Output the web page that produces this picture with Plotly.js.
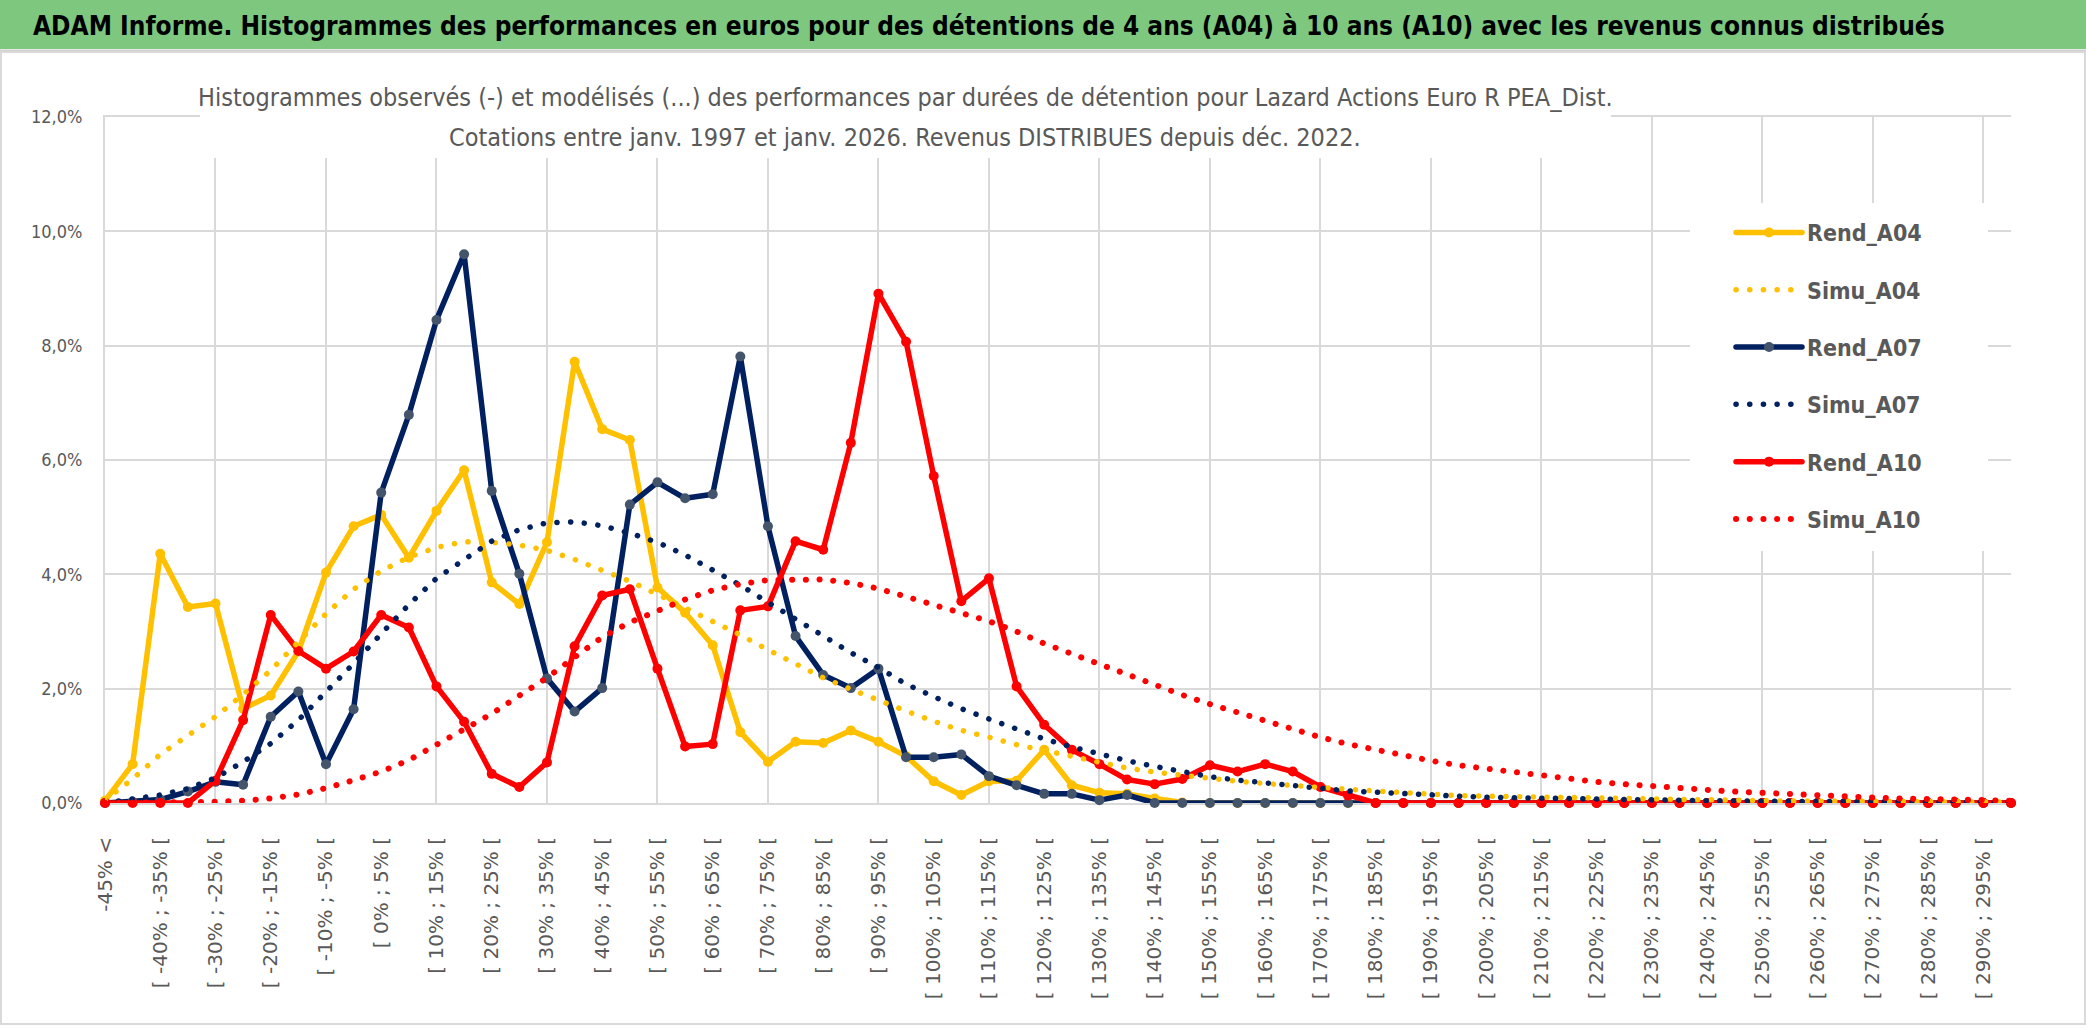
<!DOCTYPE html>
<html>
<head>
<meta charset="utf-8">
<script src="https://cdn.plot.ly/plotly-3.0.1.min.js"></script>
<style>
html,body{margin:0;padding:0;background:#fff;overflow:hidden;}
#chart{width:2086px;height:1031px;}
.js-line{stroke-linecap:round;stroke-linejoin:round;}
</style>
</head>
<body>
<div id="chart"></div>
<script>
const categories = [
"-45% <",
"[ -45% ; -40% [","[ -40% ; -35% [","[ -35% ; -30% [","[ -30% ; -25% [","[ -25% ; -20% [","[ -20% ; -15% [","[ -15% ; -10% [","[ -10% ; -5% [","[ -5% ; 0% [",
"[ 0% ; 5% [","[ 5% ; 10% [","[ 10% ; 15% [","[ 15% ; 20% [","[ 20% ; 25% [","[ 25% ; 30% [","[ 30% ; 35% [","[ 35% ; 40% [","[ 40% ; 45% [","[ 45% ; 50% [",
"[ 50% ; 55% [","[ 55% ; 60% [","[ 60% ; 65% [","[ 65% ; 70% [","[ 70% ; 75% [","[ 75% ; 80% [","[ 80% ; 85% [","[ 85% ; 90% [","[ 90% ; 95% [","[ 95% ; 100% [",
"[ 100% ; 105% [","[ 105% ; 110% [","[ 110% ; 115% [","[ 115% ; 120% [","[ 120% ; 125% [","[ 125% ; 130% [","[ 130% ; 135% [","[ 135% ; 140% [","[ 140% ; 145% [","[ 145% ; 150% [",
"[ 150% ; 155% [","[ 155% ; 160% [","[ 160% ; 165% [","[ 165% ; 170% [","[ 170% ; 175% [","[ 175% ; 180% [","[ 180% ; 185% [","[ 185% ; 190% [","[ 190% ; 195% [","[ 195% ; 200% [",
"[ 200% ; 205% [","[ 205% ; 210% [","[ 210% ; 215% [","[ 215% ; 220% [","[ 220% ; 225% [","[ 225% ; 230% [","[ 230% ; 235% [","[ 235% ; 240% [","[ 240% ; 245% [","[ 245% ; 250% [",
"[ 250% ; 255% [","[ 255% ; 260% [","[ 260% ; 265% [","[ 265% ; 270% [","[ 270% ; 275% [","[ 275% ; 280% [","[ 280% ; 285% [","[ 285% ; 290% [","[ 290% ; 295% [","[ 295% ; 300% ["
];

const rendA04 = [0.04,0.68,4.36,3.43,3.49,1.65,1.88,2.65,4.03,4.84, 5.04,4.29,5.11,5.82,3.86,3.48,4.56,7.72,6.54,6.35, 3.77,3.33,2.76,1.24,0.72,1.07,1.05,1.27,1.07,0.82, 0.38,0.14,0.38,0.39,0.93,0.31,0.18,0.16,0.08,0.01, 0,0,0,0,0,0,0,0,0,0, 0,0,0,0,0,0,0,0,0,0, 0,0,0,0,0,0,0,0,0,0];
const simuA04 = [0.05,0.42,0.85,1.18,1.51,1.90,2.32,2.82,3.31,3.74, 4.06,4.30,4.47,4.57,4.56,4.51,4.42,4.26,4.08,3.88, 3.65,3.42,3.18,2.94,2.68,2.43,2.19,1.99,1.79,1.61, 1.43,1.27,1.15,1.02,0.92,0.81,0.70,0.61,0.54,0.48, 0.43,0.38,0.34,0.30,0.26,0.24,0.21,0.18,0.15,0.13, 0.12,0.11,0.10,0.09,0.08,0.07,0.065,0.06,0.05,0.045, 0.04,0.035,0.03,0.03,0.025,0.02,0.02,0.02,0.015,0.015];
const rendA07 = [0,0.02,0.06,0.2,0.37,0.32,1.51,1.95,0.68,1.64, 5.43,6.79,8.45,9.60,5.46,4.01,2.18,1.60,2.01,5.22, 5.61,5.33,5.40,7.81,4.84,2.92,2.24,2.01,2.35,0.80, 0.80,0.85,0.47,0.31,0.16,0.16,0.05,0.14,0,0, 0,0,0,0,0,0,0,0,0,0, 0,0,0,0,0,0,0,0,0,0, 0,0,0,0,0,0,0,0,0,0];
const simuA07 = [0,0.07,0.14,0.25,0.44,0.72,1.04,1.45,1.93,2.44, 2.96,3.47,3.93,4.26,4.58,4.78,4.90,4.92,4.85,4.72, 4.56,4.34,4.08,3.81,3.51,3.21,2.93,2.63,2.37,2.08, 1.86,1.65,1.47,1.29,1.12,0.98,0.85,0.74,0.64,0.54, 0.46,0.40,0.35,0.29,0.25,0.21,0.19,0.16,0.14,0.12, 0.10,0.09,0.08,0.07,0.065,0.06,0.05,0.045,0.04,0.035, 0.03,0.028,0.025,0.02,0.02,0.015,0.015,0.01,0.01,0.01];
const rendA10 = [0,0,0,0,0.39,1.45,3.29,2.66,2.35,2.65, 3.29,3.07,2.04,1.42,0.51,0.28,0.71,2.74,3.63,3.74, 2.35,0.99,1.03,3.37,3.44,4.58,4.43,6.30,8.91,8.07, 5.72,3.53,3.93,2.04,1.37,0.93,0.68,0.41,0.33,0.42, 0.66,0.55,0.68,0.55,0.28,0.13,0,0,0,0, 0,0,0,0,0,0,0,0,0,0, 0,0,0,0,0,0,0,0,0,0];
const simuA10 = [0,0,0,0.01,0.02,0.04,0.08,0.15,0.26,0.40, 0.55,0.75,1.03,1.29,1.56,1.88,2.19,2.55,2.90,3.16, 3.36,3.56,3.72,3.83,3.90,3.91,3.91,3.85,3.75,3.61, 3.47,3.33,3.18,3.00,2.79,2.61,2.43,2.23,2.06,1.89, 1.73,1.58,1.43,1.29,1.15,1.03,0.93,0.83,0.74,0.66, 0.60,0.53,0.47,0.42,0.37,0.33,0.29,0.26,0.23,0.20, 0.175,0.15,0.13,0.11,0.095,0.08,0.07,0.06,0.05,0.04];

const seriesNames = ["Rend_A04","Simu_A04","Rend_A07","Simu_A07","Rend_A10","Simu_A10"];
const headerText = "ADAM Informe. Histogrammes des performances en euros pour des détentions de 4 ans (A04) à 10 ans (A10) avec les revenus connus distribués";
const subtitleLine1 = "Histogrammes observés (-) et modélisés (...) des performances par durées de détention pour Lazard Actions Euro R PEA_Dist.";
const subtitleLine2 = "Cotations entre janv. 1997 et janv. 2026. Revenus DISTRIBUES depuis déc. 2022.";

// layout geometry (pixels)
const W = 2086, H = 1031, L = 105, R = 75, T = 117, B = 228;
const PW = W - L - R, PH = H - T - B;
const px = x => (x - L) / PW;
const py = y => (H - B - y) / PH;

const COND = "DejaVu Sans Condensed, Liberation Sans Narrow, DejaVu Sans, sans-serif";
const GOLD = "#FFC000", NAVY = "#002060", NAVYM = "#44546A", RED = "#FF0000";
const DOT = "0.1px,13.6px";
const GRID = "#D9D9D9";

function rend(name, y, color, mcolor) {
  return {type: "scatter", mode: "lines+markers", name: name, x: categories, y: y,
    xaxis: "x", yaxis: "y",
    line: {color: color, width: 5.5}, marker: {color: mcolor, size: 10, line: {width: 0}},
    cliponaxis: false, legendgroup: name, hoverinfo: "skip"};
}
function simu(name, y, color, w) {
  return {type: "scatter", mode: "lines", name: name, x: categories, y: y,
    xaxis: "x2", yaxis: "y",
    line: {color: color, width: w, dash: DOT},
    cliponaxis: false, legendgroup: name, hoverinfo: "skip"};
}

const data = [
  rend(seriesNames[0], rendA04, GOLD, GOLD),
  simu(seriesNames[1], simuA04, GOLD, 5.5),
  rend(seriesNames[2], rendA07, NAVY, NAVYM),
  simu(seriesNames[3], simuA07, NAVY, 5.5),
  rend(seriesNames[4], rendA10, RED, RED),
  simu(seriesNames[5], simuA10, RED, 6)
];

const layout = {
  width: W, height: H,
  margin: {l: L, r: R, t: T, b: B, pad: 0},
  paper_bgcolor: "#ffffff", plot_bgcolor: "rgba(0,0,0,0)",
  separators: ", ",
  showlegend: true,
  title: {
    text: headerText,
    font: {family: COND, size: 26, color: "#000000", weight: "bold"},
    x: 33 / W, xref: "container", xanchor: "left",
    y: 1 - 26 / H, yref: "container", yanchor: "middle"
  },
  xaxis: {
    type: "category", categoryorder: "array", categoryarray: categories,
    range: [0, categories.length - 1],
    tickmode: "array",
    tickvals: categories.filter((c, i) => i % 2 === 0),
    ticktext: categories.filter((c, i) => i % 2 === 0),
    tickangle: -90, ticks: "", ticklabelstandoff: 24,
    tickfont: {family: "DejaVu Sans, Verdana, sans-serif", size: 20, color: "#595959"},
    showgrid: false, zeroline: false,
    showline: true, linecolor: GRID, linewidth: 2, mirror: true,
    layer: "below traces", fixedrange: true
  },
  xaxis2: {
    overlaying: "x", anchor: "y", side: "bottom",
    type: "category", categoryorder: "array", categoryarray: categories,
    range: [0, categories.length - 1],
    tickmode: "array", tickvals: categories.filter((c, i) => i % 4 === 0),
    showticklabels: false, ticks: "",
    showgrid: true, gridcolor: GRID, gridwidth: 2,
    zeroline: false, showline: false, layer: "below traces", fixedrange: true
  },
  yaxis: {
    range: [0, 12], tick0: 0, dtick: 2, tickformat: ".1f", ticksuffix: "%",
    showgrid: true, gridcolor: GRID, gridwidth: 2,
    zeroline: false, showline: true, linecolor: GRID, linewidth: 2, mirror: false,
    ticks: "", ticklabelstandoff: 17, layer: "below traces",
    tickfont: {family: COND, size: 18, color: "#595959"}, fixedrange: true
  },
  legend: {
    x: px(1731), y: py(211), xanchor: "left", yanchor: "top",
    xref: "paper", yref: "paper",
    bgcolor: "#ffffff", borderwidth: 0,
    font: {family: COND, size: 23, color: "#595959", weight: "bold"},
    traceorder: "grouped", tracegroupgap: 24.4, itemwidth: 66
  },
  shapes: [
    {type: "rect", xref: "paper", yref: "paper", x0: px(0), x1: px(W), y0: py(49), y1: py(0),
     fillcolor: "#7DC87E", line: {width: 0}, layer: "below"},
    {type: "line", xref: "paper", yref: "paper", x0: px(0), x1: px(W), y0: py(51), y1: py(51),
     line: {color: "#D0D0D0", width: 3}, layer: "below"},
    {type: "rect", xref: "paper", yref: "paper", x0: px(1), x1: px(W - 1), y0: py(H - 7), y1: py(52),
     line: {color: GRID, width: 2}, fillcolor: "rgba(0,0,0,0)", layer: "below"},
    {type: "rect", xref: "paper", yref: "paper", x0: px(200), x1: px(1611), y0: py(158), y1: py(110),
     fillcolor: "#ffffff", line: {width: 0}, layer: "above"},
    {type: "rect", xref: "paper", yref: "paper", x0: px(1690), x1: px(1988), y0: py(551), y1: py(203),
     fillcolor: "#ffffff", line: {width: 0}, layer: "above"}
  ],
  annotations: [
    {text: subtitleLine1, xref: "paper", yref: "paper", x: px(905), y: py(98),
     xanchor: "center", yanchor: "middle", showarrow: false,
     font: {family: COND, size: 25, color: "#595959"}},
    {text: subtitleLine2, xref: "paper", yref: "paper", x: px(905), y: py(137),
     xanchor: "center", yanchor: "middle", showarrow: false,
     font: {family: COND, size: 25, color: "#595959"}}
  ]
};

Plotly.newPlot("chart", data, layout, {displayModeBar: false, staticPlot: true});
</script>
</body>
</html>
